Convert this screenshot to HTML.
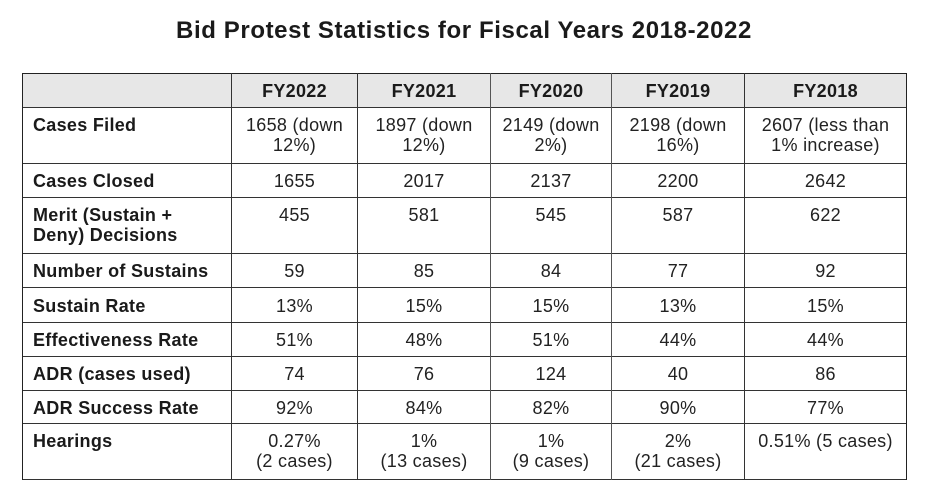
<!DOCTYPE html>
<html>
<head>
<meta charset="utf-8">
<style>
  html,body{margin:0;padding:0;background:#fff;}
  body{width:927px;height:498px;position:relative;overflow:hidden;font-family:"Liberation Sans",Arial,sans-serif;color:#222;}
  .title{position:absolute;left:0;width:928px;top:17px;text-align:center;font-size:24px;line-height:28px;font-weight:bold;letter-spacing:0.6px;color:#1a1a1a;}
  .hdr{position:absolute;left:23px;top:74px;width:883px;height:33px;background:#e7e7e7;}
  .h{position:absolute;height:1px;background:#333;left:22px;width:885px;}
  .v{position:absolute;width:1px;background:#333;top:73px;height:407px;}
  .c{position:absolute;font-size:18px;line-height:20px;letter-spacing:0.3px;text-align:center;white-space:nowrap;}
  .b{font-weight:bold;color:#1a1a1a;}
  .l{text-align:left;left:33px;}
</style>
</head>
<body>
<div class="title">Bid Protest Statistics for Fiscal Years 2018-2022</div>
<div class="hdr"></div>

<div class="h" style="top:73px;background:#222"></div>
<div class="h" style="top:107px"></div>
<div class="h" style="top:163px"></div>
<div class="h" style="top:197px"></div>
<div class="h" style="top:253px"></div>
<div class="h" style="top:287px"></div>
<div class="h" style="top:322px"></div>
<div class="h" style="top:356px"></div>
<div class="h" style="top:390px"></div>
<div class="h" style="top:423px"></div>
<div class="h" style="top:479px"></div>

<div class="v" style="left:22px;background:#222"></div>
<div class="v" style="left:231px"></div>
<div class="v" style="left:357px"></div>
<div class="v" style="left:490px;background:#555"></div>
<div class="v" style="left:611px;background:#555"></div>
<div class="v" style="left:744px"></div>
<div class="v" style="left:906px;background:#222"></div>

<!-- header -->
<div class="c b" style="top:81px;left:232px;width:125px">FY2022</div>
<div class="c b" style="top:81px;left:358px;width:132px">FY2021</div>
<div class="c b" style="top:81px;left:491px;width:120px">FY2020</div>
<div class="c b" style="top:81px;left:612px;width:132px">FY2019</div>
<div class="c b" style="top:81px;left:745px;width:161px">FY2018</div>

<!-- Cases Filed -->
<div class="c b l" style="top:115px">Cases Filed</div>
<div class="c" style="top:115px;left:232px;width:125px">1658 (down<br>12%)</div>
<div class="c" style="top:115px;left:358px;width:132px">1897 (down<br>12%)</div>
<div class="c" style="top:115px;left:491px;width:120px">2149 (down<br>2%)</div>
<div class="c" style="top:115px;left:612px;width:132px">2198 (down<br>16%)</div>
<div class="c" style="top:115px;left:745px;width:161px">2607 (less than<br>1% increase)</div>

<!-- Cases Closed -->
<div class="c b l" style="top:171px">Cases Closed</div>
<div class="c" style="top:171px;left:232px;width:125px">1655</div>
<div class="c" style="top:171px;left:358px;width:132px">2017</div>
<div class="c" style="top:171px;left:491px;width:120px">2137</div>
<div class="c" style="top:171px;left:612px;width:132px">2200</div>
<div class="c" style="top:171px;left:745px;width:161px">2642</div>

<!-- Merit -->
<div class="c b l" style="top:205px">Merit (Sustain +<br>Deny) Decisions</div>
<div class="c" style="top:205px;left:232px;width:125px">455</div>
<div class="c" style="top:205px;left:358px;width:132px">581</div>
<div class="c" style="top:205px;left:491px;width:120px">545</div>
<div class="c" style="top:205px;left:612px;width:132px">587</div>
<div class="c" style="top:205px;left:745px;width:161px">622</div>

<!-- Number of Sustains -->
<div class="c b l" style="top:261px">Number of Sustains</div>
<div class="c" style="top:261px;left:232px;width:125px">59</div>
<div class="c" style="top:261px;left:358px;width:132px">85</div>
<div class="c" style="top:261px;left:491px;width:120px">84</div>
<div class="c" style="top:261px;left:612px;width:132px">77</div>
<div class="c" style="top:261px;left:745px;width:161px">92</div>

<!-- Sustain Rate -->
<div class="c b l" style="top:296px">Sustain Rate</div>
<div class="c" style="top:296px;left:232px;width:125px">13%</div>
<div class="c" style="top:296px;left:358px;width:132px">15%</div>
<div class="c" style="top:296px;left:491px;width:120px">15%</div>
<div class="c" style="top:296px;left:612px;width:132px">13%</div>
<div class="c" style="top:296px;left:745px;width:161px">15%</div>

<!-- Effectiveness Rate -->
<div class="c b l" style="top:330px">Effectiveness Rate</div>
<div class="c" style="top:330px;left:232px;width:125px">51%</div>
<div class="c" style="top:330px;left:358px;width:132px">48%</div>
<div class="c" style="top:330px;left:491px;width:120px">51%</div>
<div class="c" style="top:330px;left:612px;width:132px">44%</div>
<div class="c" style="top:330px;left:745px;width:161px">44%</div>

<!-- ADR cases used -->
<div class="c b l" style="top:364px">ADR (cases used)</div>
<div class="c" style="top:364px;left:232px;width:125px">74</div>
<div class="c" style="top:364px;left:358px;width:132px">76</div>
<div class="c" style="top:364px;left:491px;width:120px">124</div>
<div class="c" style="top:364px;left:612px;width:132px">40</div>
<div class="c" style="top:364px;left:745px;width:161px">86</div>

<!-- ADR Success Rate -->
<div class="c b l" style="top:398px">ADR Success Rate</div>
<div class="c" style="top:398px;left:232px;width:125px">92%</div>
<div class="c" style="top:398px;left:358px;width:132px">84%</div>
<div class="c" style="top:398px;left:491px;width:120px">82%</div>
<div class="c" style="top:398px;left:612px;width:132px">90%</div>
<div class="c" style="top:398px;left:745px;width:161px">77%</div>

<!-- Hearings -->
<div class="c b l" style="top:431px">Hearings</div>
<div class="c" style="top:431px;left:232px;width:125px">0.27%<br>(2 cases)</div>
<div class="c" style="top:431px;left:358px;width:132px">1%<br>(13 cases)</div>
<div class="c" style="top:431px;left:491px;width:120px">1%<br>(9 cases)</div>
<div class="c" style="top:431px;left:612px;width:132px">2%<br>(21 cases)</div>
<div class="c" style="top:431px;left:745px;width:161px">0.51% (5 cases)</div>
</body>
</html>
